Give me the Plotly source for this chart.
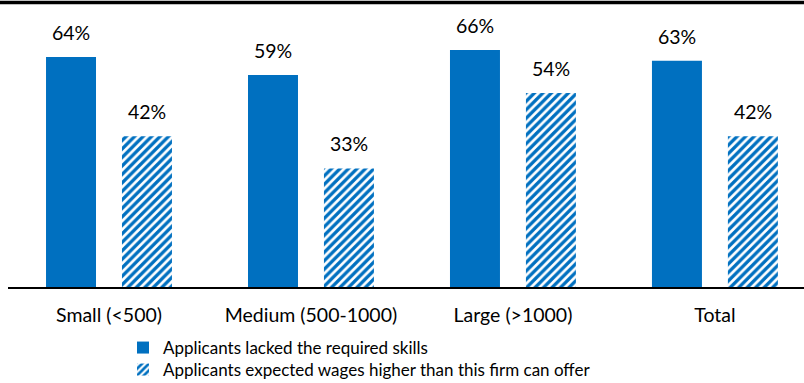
import plotly.graph_objects as go

categories = ["Small (<500)", "Medium (500-1000)", "Large (>1000)", "Total"]
lacked_skills = [64, 59, 66, 63]
high_wages = [42, 33, 54, 42]
series_names = ["Applicants lacked the required skills",
                "Applicants expected wages higher than this firm can offer"]

BLUE = "#0070C0"
FONT = "Lato"
idx = list(range(len(categories)))
off = 0.188
bw = 0.2475

fig = go.Figure()
fig.add_trace(go.Bar(
    x=[i - off for i in idx], y=lacked_skills, width=bw, name=series_names[0],
    marker=dict(color=BLUE, line=dict(width=0)), legend="legend",
))
fig.add_trace(go.Bar(
    x=[i + off for i in idx], y=high_wages, width=bw, name=series_names[1],
    marker=dict(color="white", line=dict(width=0),
                pattern=dict(shape="/", fgcolor=BLUE, bgcolor="white", fgopacity=1,
                             size=6, solidity=0.55)),
    legend="legend2",
))

for i in idx:
    for dx, v in ((-off, lacked_skills[i]), (off, high_wages[i])):
        fig.add_annotation(x=i + dx, y=v, text=f"{v}%", showarrow=False,
                           yanchor="bottom", yshift=11,
                           font=dict(family=FONT, size=19.5, color="black"))

fig.add_shape(type="line", xref="paper", yref="paper", x0=-0.02, x1=1.01,
              y0=0.9913, y1=0.9913, line=dict(color="black", width=3.5))

legend_common = dict(orientation="v", x=(123 - 8) / 796, xanchor="left",
                     yanchor="middle", itemwidth=30,
                     font=dict(family=FONT, size=17, color="black"),
                     bgcolor="rgba(0,0,0,0)")

fig.update_layout(
    width=804, height=383,
    margin=dict(l=8, r=0, t=0, b=96, autoexpand=False),
    paper_bgcolor="white", plot_bgcolor="white",
    barmode="overlay",
    font=dict(family=FONT, size=19, color="black"),
    xaxis=dict(range=[-0.5, 3.441], tickvals=idx, ticktext=categories,
               showline=True, linecolor="black", linewidth=2, showgrid=False,
               zeroline=False, ticks="", ticklabelstandoff=10,
               tickfont=dict(family=FONT, size=19.5, color="black")),
    yaxis=dict(range=[0, 79.9], visible=False, showgrid=False, zeroline=False),
    legend=dict(legend_common, y=(287 - 348) / 287),
    legend2=dict(legend_common, y=(287 - 370) / 287),
    showlegend=True,
)

post_js = "document.body.style.margin='0px';document.body.style.padding='0px';"
fig.write_html("out.html", config={"displayModeBar": False}, post_script=post_js)
